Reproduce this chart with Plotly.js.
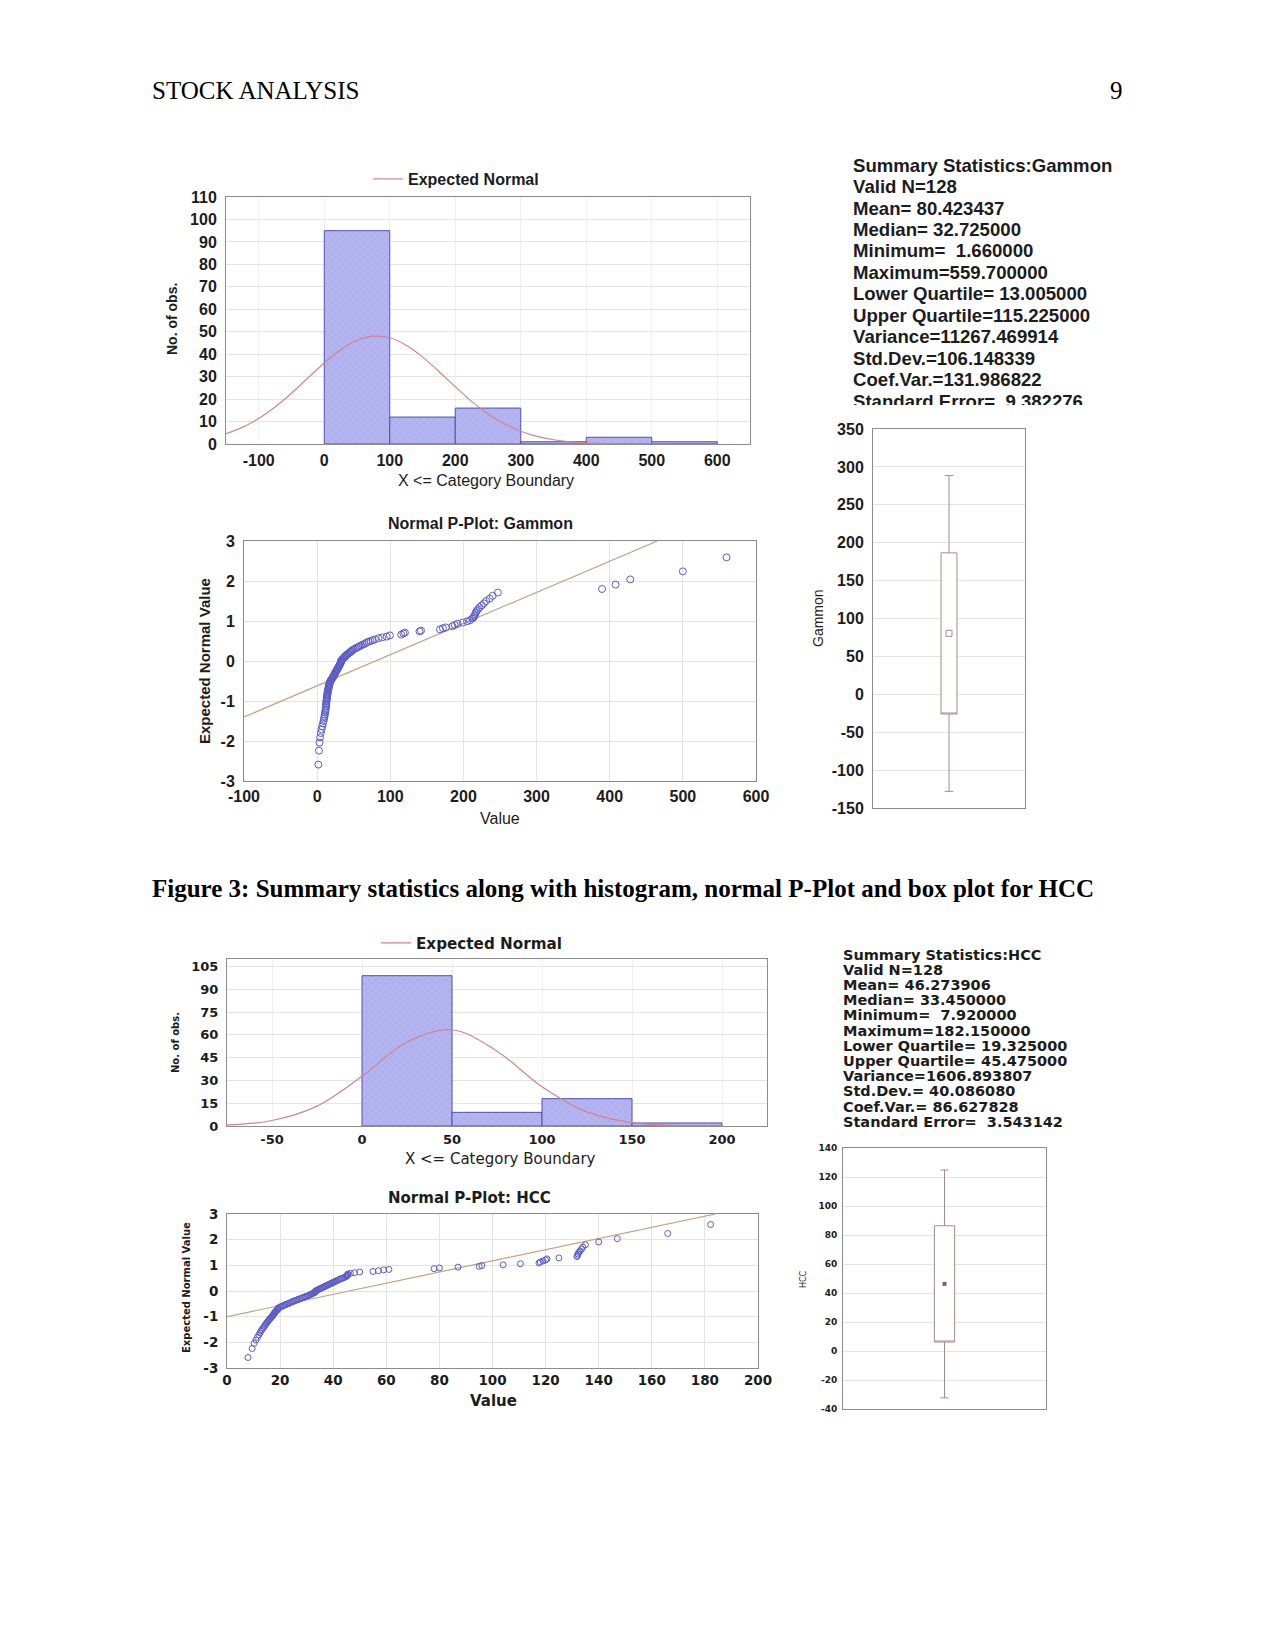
<!DOCTYPE html>
<html><head><meta charset="utf-8">
<script src="https://cdn.plot.ly/plotly-3.0.1.min.js"></script>
<style>html,body{margin:0;padding:0;background:#fff}#page{width:1275px;height:1651px}</style>
</head><body><div id="page"></div>
<script>
// ---------------- DATA ----------------
const gammonBinStart = [0, 100, 200, 300, 400, 500];
const gammonBinCount = [95, 12, 16, 1, 3, 1];
const gammonBinWidth = 100;
const gammonCurveX = [-150,-125,-100,-75,-50,-25,0,25,50,75,100,125,150,175,200,225,250,275,300,325,350,375,400,425,450,500];
const gammonCurveY = [4.6,7.4,11.4,16.5,22.6,29.4,36.1,42.0,46.2,48.0,47.3,44.0,38.8,32.3,25.5,19.0,13.4,9.0,5.7,3.4,1.9,1.0,0.5,0.25,0.1,0.0];

const hccBinStart = [0, 50, 100, 150];
const hccBinCount = [99, 9, 18, 2];
const hccBinWidth = 50;
const hccCurveX = [-75,-50,-25,0,25,50,75,100,125,150,175,200];
const hccCurveY = [0.7,3.6,13.1,32.7,55.3,63.4,49.3,25.9,9.3,2.2,0.4,0.0];

// expected normal values of the 128 ranked observations (P-plot y values)
const expectedNormal = [-2.59,-2.24,-2.04,-1.91,-1.80,-1.71,-1.63,-1.56,-1.50,-1.44,-1.39,-1.34,-1.29,-1.25,-1.21,-1.17,-1.13,-1.09,-1.06,-1.02,-0.99,-0.96,-0.93,-0.90,-0.87,-0.84,-0.82,-0.79,-0.76,-0.74,-0.71,-0.69,-0.66,-0.64,-0.61,-0.59,-0.57,-0.54,-0.52,-0.50,-0.48,-0.46,-0.43,-0.41,-0.39,-0.37,-0.35,-0.33,-0.31,-0.29,-0.27,-0.25,-0.23,-0.21,-0.19,-0.17,-0.15,-0.13,-0.11,-0.09,-0.07,-0.05,-0.03,-0.01,
 0.01,0.03,0.05,0.07,0.09,0.11,0.13,0.15,0.17,0.19,0.21,0.23,0.25,0.27,0.29,0.31,0.33,0.35,0.37,0.39,0.41,0.43,0.46,0.48,0.50,0.52,0.54,0.57,0.59,0.61,0.64,0.66,0.69,0.71,0.74,0.76,0.79,0.82,0.84,0.87,0.90,0.93,0.96,0.99,1.02,1.06,1.09,1.13,1.17,1.21,1.25,1.29,1.34,1.39,1.44,1.50,1.56,1.63,1.71,1.80,1.91,2.04,2.24,2.59];

const gammonValues = [1.66,2.5,3.2,4.0,5.0,6.0,7.0,8.0,8.8,9.5,
 10.0,10.5,11.0,11.3,11.6,11.9,12.1,12.3,12.5,12.7,
 12.9,13.1,13.3,13.5,13.7,13.9,14.1,14.3,14.5,14.8,
 15.1,15.4,15.7,16.0,16.3,16.6,17.0,17.4,17.8,18.2,
 19.0,19.8,20.6,21.4,22.0,22.6,23.2,23.8,24.4,25.0,
 25.6,26.2,26.8,27.4,28.0,28.6,29.2,29.8,30.4,31.0,
 31.6,32.0,32.4,32.6,
 32.85,34.0,35.0,36.0,37.0,38.0,39.0,40.0,41.5,43.0,
 44.5,46.0,47.0,48.5,50.0,52.0,54.0,56.0,58.0,60.0,
 62.5,65.0,67.5,70.0,73.0,76.0,79.0,84.0,89.0,95.0,99.5,
 115,118,120,140,142,168,172,176,185,188,192,199,
 205,209,212,214,215,216,217,218,220,222,225,228,231,236,240,247,
 389.5,408,428,500,559.7];

const hccValues = [7.92,9.5,10.2,10.9,11.5,12.0,12.4,12.8,13.2,13.6,
 14.0,14.3,14.6,14.9,15.2,15.5,15.8,16.1,16.4,16.7,
 17.0,17.2,17.4,17.6,17.8,18.0,18.2,18.4,18.6,18.9,
 19.2,19.3,19.35,19.8,20.3,20.8,21.3,21.8,22.3,22.8,
 23.3,23.8,24.3,24.8,25.3,25.8,26.3,26.8,27.3,27.8,
 28.3,28.8,29.3,29.8,30.3,30.8,31.2,31.6,32.0,32.4,
 32.8,33.1,33.3,33.4,
 33.5,33.9,34.3,34.7,35.1,35.5,35.9,36.3,36.7,37.1,
 37.5,37.9,38.3,38.7,39.1,39.5,39.9,40.3,40.7,41.1,
 41.5,42.0,42.5,43.0,43.5,44.0,44.5,44.9,45.2,45.4,45.45,45.5,46.5,48.0,50.0,
 55,57,59,61,78,80,87,95,96,
 104,110.5,117.5,118,119,120,120.5,125,131.8,132,132.2,132.5,133,133.5,134,135,140,147,
 166,182.15];

const gammonFitX = [-100, 465];
const gammonFitY = [-1.4, 3.0];
const hccFitX = [0, 184];
const hccFitY = [-1.0, 3.0];

const gammonWhiskerLow = [-128], gammonBoxLow = [-26], gammonMean = [80.4], gammonBoxHigh = [186.6], gammonWhiskerHigh = [288.5];
const hccWhiskerLow = [-32.3], hccBoxLow = [6.2], hccMean = [46.3], hccBoxHigh = [86.4], hccWhiskerHigh = [124.8];

const gammonStats = ["Summary Statistics:Gammon","Valid N=128","Mean= 80.423437","Median= 32.725000","Minimum=\u00a0 1.660000","Maximum=559.700000","Lower Quartile= 13.005000","Upper Quartile=115.225000","Variance=11267.469914","Std.Dev.=106.148339","Coef.Var.=131.986822","Standard Error=\u00a0 9.382276"];
const hccStats = ["Summary Statistics:HCC","Valid N=128","Mean= 46.273906","Median= 33.450000","Minimum=\u00a0 7.920000","Maximum=182.150000","Lower Quartile= 19.325000","Upper Quartile= 45.475000","Variance=1606.893807","Std.Dev.= 40.086080","Coef.Var.= 86.627828","Standard Error=\u00a0 3.543142"];

const gammonHistXTicks = [-100,0,100,200,300,400,500,600];
const gammonHistYTicks = [0,10,20,30,40,50,60,70,80,90,100,110];
const gammonPXTicks = [-100,0,100,200,300,400,500,600];
const pYTicks = [-3,-2,-1,0,1,2,3];
const gammonBoxTicks = [-150,-100,-50,0,50,100,150,200,250,300,350];
const hccHistXTicks = [-50,0,50,100,150,200];
const hccHistYTicks = [0,15,30,45,60,75,90,105];
const hccPXTicks = [0,20,40,60,80,100,120,140,160,180,200];
const hccBoxTicks = [-40,-20,0,20,40,60,80,100,120,140];

// ---------------- LAYOUT HELPERS ----------------
const W = 1275, H = 1651;
const fx = p => p / W, fy = p => 1 - p / H;
const xd = (a, b) => [a / W, b / W];
const yd = (t, b) => [1 - b / H, 1 - t / H];
const LS = 'Liberation Sans, Arial, sans-serif';
const DV = 'DejaVu Sans, Verdana, sans-serif';
const SERIF = 'Liberation Serif, Times New Roman, serif';
const INK = '#1c1c1c';

function axis(dom, anchor, range, tv, tf, extra) {
  return Object.assign({
    domain: dom, anchor: anchor, range: range, tickmode: 'array', tickvals: tv,
    ticktext: tv.map(v => String(v)),
    tickfont: tf, showline: true, mirror: true, linecolor: '#8c8c8c', linewidth: 1,
    zeroline: false, showgrid: true, gridcolor: '#e4e4e4', gridwidth: 1,
    ticks: '', ticklabelstandoff: 5, fixedrange: true
  }, extra || {});
}
function ann(text, x, y, font, extra) {
  return Object.assign({text: text, x: fx(x), y: fy(y), xref: 'paper', yref: 'paper',
    showarrow: false, xanchor: 'center', yanchor: 'middle', font: font}, extra || {});
}
function statRange(top, bottom, c0, step) {
  const rTop = -(c0 - top) / step;
  return [rTop + (bottom - top) / step, rTop];
}

const gTick = {family: LS, size: 16, weight: 'bold', color: INK};
const hTick = {family: DV, size: 13, weight: 'bold', color: INK};
const hTickP = {family: DV, size: 13.5, weight: 'bold', color: INK};
const hTickB = {family: DV, size: 9, weight: 'bold', color: INK};

const barMarker = {color: '#b2b2ef', line: {color: '#5050b4', width: 1},
  pattern: {shape: 'x', fgcolor: '#a0a0e6', bgcolor: '#b4b4f0', size: 5, solidity: 0.12}};
const curveLine = {color: '#d0848f', width: 1.2, shape: 'spline', smoothing: 1};
const fitLine = {color: '#c9a07e', width: 1.2};
const boxLine = {color: '#a88a86', width: 1};

const traces = [
  // Gammon histogram
  {type: 'bar', x: gammonBinStart, y: gammonBinCount, width: gammonBinWidth, offset: 0,
   marker: barMarker, xaxis: 'x', yaxis: 'y', showlegend: false, hoverinfo: 'skip'},
  {type: 'scatter', mode: 'lines', x: gammonCurveX, y: gammonCurveY, line: curveLine,
   name: 'Expected Normal', legend: 'legend', xaxis: 'x', yaxis: 'y', cliponaxis: true},
  // Gammon P-plot
  {type: 'scatter', mode: 'lines', x: gammonFitX, y: gammonFitY, line: fitLine,
   xaxis: 'x2', yaxis: 'y2', showlegend: false},
  {type: 'scatter', mode: 'markers', x: gammonValues, y: expectedNormal,
   marker: {symbol: 'circle-open', size: 7, color: '#5c5cc8', line: {width: 1}},
   xaxis: 'x2', yaxis: 'y2', showlegend: false},
  // Gammon box plot
  {type: 'box', x: [0], q1: gammonBoxLow, median: gammonBoxLow, q3: gammonBoxHigh,
   lowerfence: gammonWhiskerLow, upperfence: gammonWhiskerHigh, width: 0.21, whiskerwidth: 0.55,
   fillcolor: '#ffffff', line: boxLine, boxpoints: false, xaxis: 'x3', yaxis: 'y3', showlegend: false},
  {type: 'scatter', mode: 'markers', x: [0], y: gammonMean,
   marker: {symbol: 'square-open', size: 6, color: '#a88a86', line: {width: 1}},
   xaxis: 'x3', yaxis: 'y3', showlegend: false},
  // Gammon stats text
  {type: 'scatter', mode: 'text', x: gammonStats.map(() => 0), y: gammonStats.map((_, i) => i), text: gammonStats,
   textposition: 'middle right', textfont: {family: LS, size: 18.6, weight: 'bold', color: INK},
   cliponaxis: true, xaxis: 'x4', yaxis: 'y4', showlegend: false, hoverinfo: 'skip'},
  // HCC histogram
  {type: 'bar', x: hccBinStart, y: hccBinCount, width: hccBinWidth, offset: 0,
   marker: barMarker, xaxis: 'x5', yaxis: 'y5', showlegend: false, hoverinfo: 'skip'},
  {type: 'scatter', mode: 'lines', x: hccCurveX, y: hccCurveY, line: curveLine,
   name: 'Expected Normal', legend: 'legend2', xaxis: 'x5', yaxis: 'y5'},
  // HCC P-plot
  {type: 'scatter', mode: 'lines', x: hccFitX, y: hccFitY, line: fitLine,
   xaxis: 'x6', yaxis: 'y6', showlegend: false},
  {type: 'scatter', mode: 'markers', x: hccValues, y: expectedNormal,
   marker: {symbol: 'circle-open', size: 6, color: '#5c5cc8', line: {width: 1}},
   xaxis: 'x6', yaxis: 'y6', showlegend: false},
  // HCC box plot
  {type: 'box', x: [0], q1: hccBoxLow, median: hccBoxLow, q3: hccBoxHigh,
   lowerfence: hccWhiskerLow, upperfence: hccWhiskerHigh, width: 0.2, whiskerwidth: 0.4,
   fillcolor: '#ffffff', line: boxLine, boxpoints: false, xaxis: 'x7', yaxis: 'y7', showlegend: false},
  {type: 'scatter', mode: 'markers', x: [0], y: hccMean,
   marker: {symbol: 'square', size: 4, color: '#8a5a55'},
   xaxis: 'x7', yaxis: 'y7', showlegend: false},
  // HCC stats text
  {type: 'scatter', mode: 'text', x: hccStats.map(() => 0), y: hccStats.map((_, i) => i), text: hccStats,
   textposition: 'middle right', textfont: {family: DV, size: 14.5, weight: 'bold', color: INK},
   cliponaxis: true, xaxis: 'x8', yaxis: 'y8', showlegend: false, hoverinfo: 'skip'}
];

const layout = {
  width: W, height: H, margin: {l: 0, r: 0, t: 0, b: 0},
  paper_bgcolor: '#ffffff', plot_bgcolor: '#ffffff',
  bargap: 0, hovermode: false,
  xaxis: axis(xd(226, 750), 'y', [-150, 650], gammonHistXTicks, gTick, {gridcolor: '#f0f0f0', ticklabelstandoff: 2}),
  yaxis: axis(yd(197, 444), 'x', [0, 110], gammonHistYTicks, gTick),
  xaxis2: axis(xd(244, 756), 'y2', [-100, 600], gammonPXTicks, gTick, {ticklabelstandoff: 1}),
  yaxis2: axis(yd(541, 781), 'x2', [-3, 3], pYTicks, gTick),
  xaxis3: axis(xd(873, 1025), 'y3', [-1, 1], [], gTick, {showgrid: false, showticklabels: false}),
  yaxis3: axis(yd(429, 808), 'x3', [-150, 350], gammonBoxTicks, gTick),
  xaxis4: {domain: xd(853, 1160), anchor: 'y4', range: [0, 1], visible: false, fixedrange: true},
  yaxis4: {domain: yd(155, 405), anchor: 'x4', range: statRange(155, 405, 167, 21.45), visible: false, fixedrange: true},
  xaxis5: axis(xd(227, 767), 'y5', [-75, 225], hccHistXTicks, hTick, {gridcolor: '#f0f0f0', ticklabelstandoff: 1}),
  yaxis5: axis(yd(959, 1126), 'x5', [0, 110], hccHistYTicks, hTick),
  xaxis6: axis(xd(227, 758), 'y6', [0, 200], hccPXTicks, hTickP, {ticklabelstandoff: 0}),
  yaxis6: axis(yd(1214, 1368), 'x6', [-3, 3], pYTicks, hTickP),
  xaxis7: axis(xd(843, 1046), 'y7', [-1, 1], [], hTickB, {showgrid: false, showticklabels: false}),
  yaxis7: axis(yd(1148, 1409), 'x7', [-40, 140], hccBoxTicks, hTickB, {ticklabelstandoff: 3}),
  xaxis8: {domain: xd(843, 1120), anchor: 'y8', range: [0, 1], visible: false, fixedrange: true},
  yaxis8: {domain: yd(940, 1140), anchor: 'x8', range: statRange(940, 1140, 956, 15.2), visible: false, fixedrange: true},
  legend: {x: fx(368), y: fy(179), xanchor: 'left', yanchor: 'middle', bgcolor: 'rgba(0,0,0,0)',
    borderwidth: 0, itemwidth: 30, font: {family: LS, size: 16, weight: 'bold', color: INK}},
  legend2: {x: fx(376), y: fy(943), xanchor: 'left', yanchor: 'middle', bgcolor: 'rgba(0,0,0,0)',
    borderwidth: 0, itemwidth: 30, font: {family: DV, size: 15.2, weight: 'bold', color: INK}},
  annotations: [
    ann('STOCK ANALYSIS', 150, 90, {family: SERIF, size: 25, color: '#000'}, {xanchor: 'left'}),
    ann('9', 1125, 90, {family: SERIF, size: 25, color: '#000'}, {xanchor: 'right'}),
    ann('Figure 3: Summary statistics along with histogram, normal P-Plot and box plot for HCC', 150, 888,
        {family: SERIF, size: 25, weight: 'bold', color: '#000'}, {xanchor: 'left'}),
    // Gammon
    ann('No. of obs.', 172, 319, {family: LS, size: 14, weight: 'bold', color: INK}, {textangle: -90}),
    ann('X &lt;= Category Boundary', 486, 481, {family: LS, size: 16, color: INK}),
    ann('Normal P-Plot: Gammon', 480, 523, {family: LS, size: 16, weight: 'bold', color: INK}),
    ann('Expected Normal Value', 205, 661, {family: LS, size: 15, weight: 'bold', color: INK}, {textangle: -90}),
    ann('Value', 500, 818, {family: LS, size: 16, color: INK}),
    ann('Gammon', 818, 618, {family: LS, size: 14, color: INK}, {textangle: -90}),
    // HCC
    ann('No. of obs.', 175, 1043, {family: DV, size: 10, weight: 'bold', color: INK}, {textangle: -90}),
    ann('X &lt;= Category Boundary', 500, 1159, {family: DV, size: 15, color: INK}),
    ann('Normal P-Plot: HCC', 469, 1198, {family: DV, size: 15, weight: 'bold', color: INK}),
    ann('Expected Normal Value', 186, 1288, {family: DV, size: 10, weight: 'bold', color: INK}, {textangle: -90}),
    ann('Value', 493, 1401, {family: DV, size: 15, weight: 'bold', color: INK}),
    ann('HCC', 803, 1279, {family: DV, size: 8, color: INK}, {textangle: -90})
  ]
};

Plotly.newPlot('page', traces, layout, {staticPlot: true, displayModeBar: false});
</script>
</body></html>
